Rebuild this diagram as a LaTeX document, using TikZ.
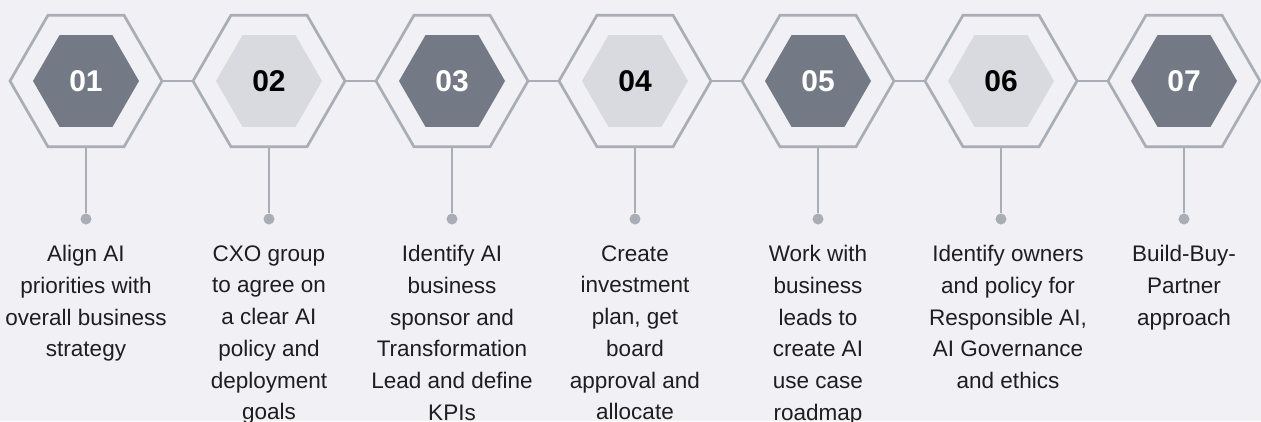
\documentclass[tikz,border=0pt]{standalone}
\usepackage{fontspec}
\setmainfont{Liberation Sans}
\usetikzlibrary{shapes.geometric}
\definecolor{bgc}{HTML}{F0F0F5}
\definecolor{linec}{HTML}{A9ADB5}
\definecolor{darkc}{HTML}{737A86}
\definecolor{lightc}{HTML}{D9DADF}
\definecolor{textc}{HTML}{1E1E1E}
\tikzset{
  outerhex/.style={regular polygon,regular polygon sides=6,minimum size=152pt,
    inner sep=0pt,outer sep=0pt,draw=linec,line width=2.7pt,fill=bgc},
  darkhex/.style={regular polygon,regular polygon sides=6,minimum size=106pt,
    inner sep=0pt,fill=darkc,text=white,font=\fontsize{30}{30}\selectfont\bfseries},
  lighthex/.style={darkhex,fill=lightc,text=black},
  pin/.style={circle,fill=linec,minimum size=11pt,inner sep=0pt},
  desc/.style={anchor=north,align=center,text=textc,
    font=\fontsize{22.5}{31.7}\selectfont},
  link/.style={draw=linec,line width=2.7pt}
}
\begin{document}
\begin{tikzpicture}[x=1pt,y=-1pt]
  \fill [bgc] (0,0) rectangle (1261,421);
  \clip (0,0) rectangle (1261,421);
  % hexagons
  \node [outerhex] (h1) at (86,81) {};
  \node [outerhex] (h2) at (269,81) {};
  \node [outerhex] (h3) at (452,81) {};
  \node [outerhex] (h4) at (635,81) {};
  \node [outerhex] (h5) at (818,81) {};
  \node [outerhex] (h6) at (1001,81) {};
  \node [outerhex] (h7) at (1184,81) {};
  \node [darkhex] (n1) at (h1) {01};
  \node [lighthex] (n2) at (h2) {02};
  \node [darkhex] (n3) at (h3) {03};
  \node [lighthex] (n4) at (h4) {04};
  \node [darkhex] (n5) at (h5) {05};
  \node [lighthex] (n6) at (h6) {06};
  \node [darkhex] (n7) at (h7) {07};
  \draw [link] (h1.east) -- (h2.west);
  \draw [link] (h2.east) -- (h3.west);
  \draw [link] (h3.east) -- (h4.west);
  \draw [link] (h4.east) -- (h5.west);
  \draw [link] (h5.east) -- (h6.west);
  \draw [link] (h6.east) -- (h7.west);
  % pins
  \node [pin] (p1) at (86,219) {};
  \node [pin] (p2) at (269,219) {};
  \node [pin] (p3) at (452,219) {};
  \node [pin] (p4) at (635,219) {};
  \node [pin] (p5) at (818,219) {};
  \node [pin] (p6) at (1001,219) {};
  \node [pin] (p7) at (1184,219) {};
  \draw [link] (h1.south) -- (p1);
  \draw [link] (h2.south) -- (p2);
  \draw [link] (h3.south) -- (p3);
  \draw [link] (h4.south) -- (p4);
  \draw [link] (h5.south) -- (p5);
  \draw [link] (h6.south) -- (p6);
  \draw [link] (h7.south) -- (p7);
  % descriptions
  \node [desc] (t1) at (86,242) {Align AI\\priorities with\\overall business\\strategy};
  \node [desc] (t2) at (269,242) {CXO group\\to agree on\\a clear AI\\policy and\\deployment\\goals};
  \node [desc] (t3) at (452,242) {Identify AI\\business\\sponsor and\\Transformation\\Lead and define\\KPIs};
  \node [desc] (t4) at (635,242) {Create\\investment\\plan, get\\board\\approval and\\allocate};
  \node [desc] (t5) at (818,242) {Work with\\business\\leads to\\create AI\\use case\\roadmap};
  \node [desc] (t6) at (1008,242) {Identify owners\\and policy for\\Responsible AI,\\AI Governance\\and ethics};
  \node [desc] (t7) at (1184,242) {Build-Buy-\\Partner\\approach};
\end{tikzpicture}
\end{document}
